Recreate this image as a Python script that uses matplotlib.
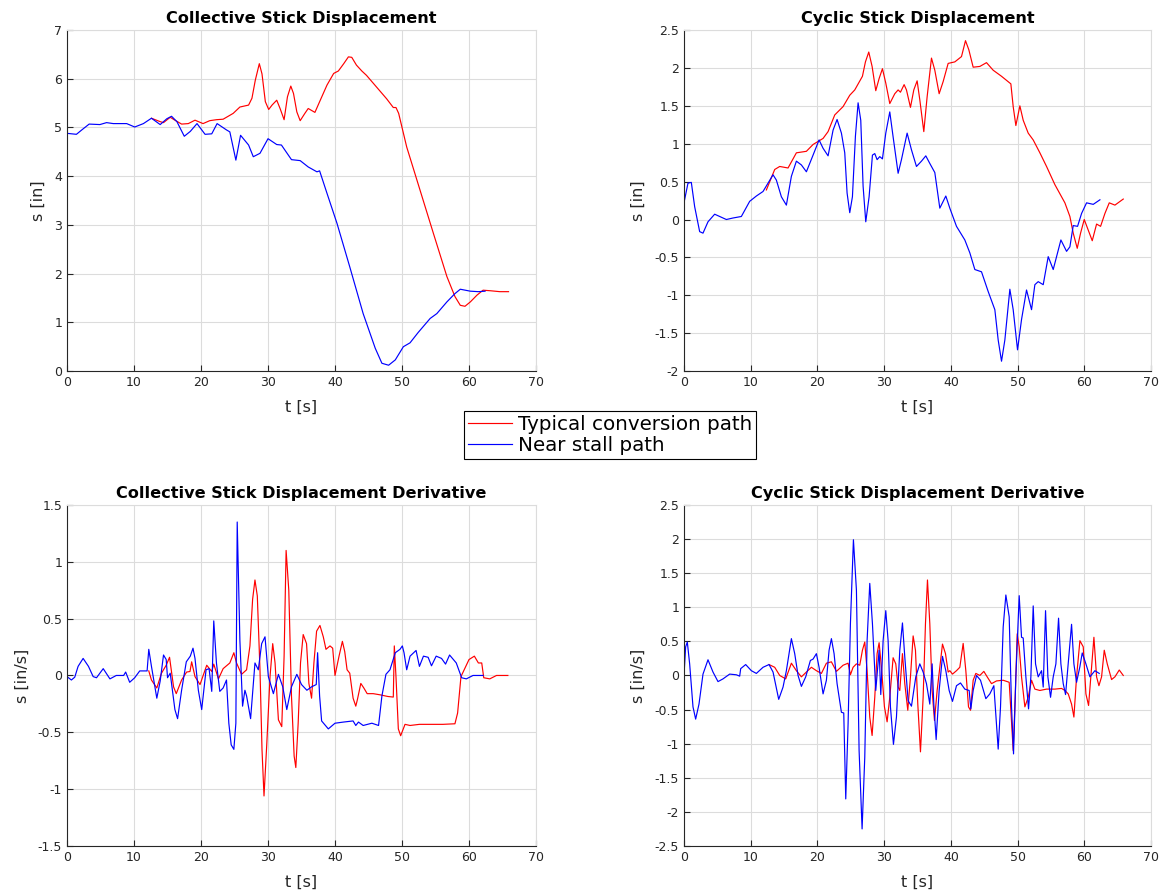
import matplotlib
matplotlib.use("Agg")
import matplotlib.pyplot as plt
from matplotlib.ticker import FuncFormatter

plt.rcParams['font.family'] = ['DejaVu Sans']
plt.rcParams['axes.unicode_minus'] = False

# ---------------- data ----------------
# Collective stick displacement
col_near_t = [0, 1.4, 2.2, 3.3, 4.9, 5.9, 6.9, 8.9, 10.1, 11.4, 12.6, 13.9, 14.9, 15.6, 16.4, 17.5, 18.4, 19.4,
              20.6, 21.6, 22.4, 23.8, 24.3, 25.2, 25.9, 27.1, 27.8, 28.8, 30.0, 31.3, 32.0, 33.5, 34.8, 36.0, 37.3,
              37.7, 38.8, 40.3, 42.2, 44.2, 46.0, 47.0, 48.0, 49.0, 50.2, 51.2, 52.4, 54.2, 55.2, 56.7, 57.9, 58.7,
              60.2, 61.4, 62.4]
col_near_s = [4.88, 4.86, 4.95, 5.07, 5.06, 5.10, 5.08, 5.08, 5.01, 5.08, 5.19, 5.06, 5.18, 5.23, 5.12, 4.82, 4.92,
              5.08, 4.86, 4.87, 5.08, 4.95, 4.91, 4.33, 4.84, 4.64, 4.40, 4.47, 4.77, 4.65, 4.64, 4.34, 4.32, 4.19,
              4.09, 4.11, 3.65, 3.03, 2.14, 1.18, 0.47, 0.16, 0.12, 0.23, 0.50, 0.58, 0.79, 1.08, 1.18, 1.42, 1.59,
              1.68, 1.64, 1.63, 1.64]
col_typ_t = [12.6, 13.9, 14.4, 15.4, 16.1, 17.1, 18.1, 19.1, 20.3, 21.3, 22.3, 23.3, 24.8, 25.8, 27.1, 27.6, 28.1,
             28.7, 29.1, 29.6, 30.1, 30.6, 31.3, 31.8, 32.4, 32.9, 33.4, 33.8, 34.3, 34.8, 35.5, 36.0, 37.0, 37.8,
             38.8, 39.8, 40.5, 41.3, 42.0, 42.5, 43.2, 44.0, 44.7, 46.2, 47.7, 48.7, 49.1, 49.5, 50.7, 52.7, 54.7,
             56.7, 57.9, 58.7, 59.4, 60.2, 61.2, 62.1, 63.1, 64.6, 65.9]
col_typ_s = [5.19, 5.12, 5.10, 5.21, 5.15, 5.07, 5.08, 5.15, 5.08, 5.14, 5.16, 5.17, 5.29, 5.42, 5.46, 5.60, 5.97,
             6.31, 6.10, 5.53, 5.37, 5.46, 5.56, 5.39, 5.16, 5.63, 5.85, 5.70, 5.32, 5.14, 5.29, 5.39, 5.31, 5.56,
             5.87, 6.11, 6.16, 6.31, 6.45, 6.44, 6.28, 6.16, 6.07, 5.83, 5.59, 5.41, 5.41, 5.29, 4.60, 3.71, 2.82,
             1.94, 1.53, 1.35, 1.33, 1.42, 1.56, 1.66, 1.65, 1.63, 1.63]

# Cyclic stick displacement
cyc_near_t = [0, 0.6, 1.1, 1.6, 2.35, 2.85, 3.6, 4.6, 5.35, 6.35, 7.35, 8.6, 9.85, 10.85, 11.85, 12.6, 13.35, 13.85,
              14.6, 15.35, 16.1, 16.85, 17.6, 18.35, 19.35, 20.25, 20.85, 21.6, 22.35, 22.95, 23.6, 24.1, 24.45,
              24.85, 25.25, 25.7, 26.1, 26.5, 26.85, 27.25, 27.75, 28.25, 28.6, 28.95, 29.35, 29.75, 30.25, 30.85,
              31.35, 32.1, 32.6, 33.45, 34.1, 34.85, 35.6, 36.25, 36.85, 37.6, 38.35, 39.25, 39.85, 40.85, 42.1,
              42.85, 43.6, 44.6, 45.6, 46.6, 47.1, 47.6, 48.1, 48.85, 49.35, 50.0, 50.6, 51.35, 52.1, 52.6, 53.1,
              53.85, 54.6, 55.35, 56.5, 57.35, 57.85, 58.35, 59.0, 59.6, 60.35, 61.35, 62.35]
cyc_near_s = [0.22, 0.48, 0.49, 0.17, -0.16, -0.18, -0.03, 0.07, 0.04, 0.0, 0.02, 0.04, 0.24, 0.31, 0.37, 0.48, 0.59,
              0.52, 0.30, 0.19, 0.57, 0.77, 0.72, 0.63, 0.85, 1.05, 0.94, 0.84, 1.18, 1.32, 1.14, 0.88, 0.35, 0.09,
              0.30, 1.10, 1.54, 1.31, 0.44, -0.03, 0.30, 0.85, 0.87, 0.79, 0.83, 0.80, 1.14, 1.42, 1.09, 0.61, 0.79,
              1.14, 0.92, 0.70, 0.77, 0.84, 0.74, 0.62, 0.15, 0.31, 0.15, -0.09, -0.27, -0.44, -0.66, -0.69, -0.95,
              -1.19, -1.59, -1.87, -1.59, -0.92, -1.19, -1.72, -1.32, -0.93, -1.19, -0.86, -0.82, -0.86, -0.49,
              -0.66, -0.27, -0.42, -0.36, -0.08, -0.09, 0.08, 0.22, 0.20, 0.26]
cyc_typ_t = [12.35, 13.6, 14.35, 15.6, 16.85, 18.35, 19.35, 20.85, 21.6, 22.6, 23.85, 24.85, 25.6, 26.75, 27.2, 27.7,
             28.2, 28.75, 29.25, 29.75, 30.25, 30.85, 31.6, 32.1, 32.45, 33.0, 33.35, 33.95, 34.45, 34.95, 35.35,
             35.95, 36.45, 37.1, 37.6, 38.25, 38.85, 39.6, 40.6, 41.6, 42.2, 42.7, 43.35, 44.35, 45.35, 46.35, 47.6,
             49.0, 49.35, 49.75, 50.35, 50.85, 51.6, 52.35, 53.35, 54.35, 55.6, 57.1, 57.85, 58.35, 58.95, 59.45,
             60.0, 60.6, 61.2, 61.85, 62.45, 63.1, 63.75, 64.6, 65.85]
cyc_typ_s = [0.39, 0.66, 0.70, 0.68, 0.88, 0.90, 0.99, 1.07, 1.16, 1.38, 1.49, 1.64, 1.71, 1.89, 2.08, 2.21, 2.02,
             1.70, 1.86, 1.99, 1.80, 1.53, 1.66, 1.71, 1.68, 1.78, 1.71, 1.48, 1.71, 1.83, 1.58, 1.16, 1.62, 2.13,
             1.97, 1.66, 1.82, 2.06, 2.08, 2.15, 2.36, 2.24, 2.01, 2.02, 2.07, 1.97, 1.89, 1.79, 1.49, 1.24, 1.50,
             1.31, 1.14, 1.05, 0.88, 0.70, 0.46, 0.22, 0.04, -0.18, -0.38, -0.18, 0.0, -0.14, -0.28, -0.06, -0.09,
             0.08, 0.22, 0.19, 0.27]

# Collective stick displacement derivative
dcol_near_t = [0, 0.65, 1.15, 1.65, 2.4, 3.2, 3.9, 4.4, 5.4, 6.4, 7.35, 8.45, 8.75, 9.35, 10.1, 10.85, 11.95, 12.2,
               12.6, 13.4, 13.9, 14.4, 14.8, 15.0, 15.4, 16.1, 16.5, 17.1, 17.8, 18.4, 18.8, 19.1, 19.6, 20.1, 20.75,
               21.2, 21.6, 21.9, 22.3, 22.8, 23.3, 23.8, 24.15, 24.5, 24.9, 25.2, 25.4, 25.8, 26.2, 26.55, 26.8,
               27.4, 28.05, 28.55, 29.05, 29.55, 30.05, 30.8, 31.55, 32.2, 32.8, 33.5, 34.3, 35.0, 35.8, 36.5, 37.2,
               37.4, 37.7, 38.0, 39.0, 40.0, 41.25, 42.7, 43.1, 43.5, 44.2, 45.5, 46.5, 47.0, 47.6, 48.2, 49.0,
               49.7, 50.05, 50.3, 50.7, 51.2, 52.1, 52.6, 53.2, 53.9, 54.4, 55.1, 55.9, 56.5, 57.1, 58.1, 58.9,
               59.6, 60.6, 62.1]
dcol_near_s = [-0.01, -0.04, -0.015, 0.08, 0.15, 0.08, -0.01, -0.02, 0.06, -0.03, 0.0, 0.0, 0.03, -0.06, -0.02,
               0.04, 0.04, 0.23, 0.08, -0.20, -0.05, 0.18, 0.14, -0.02, 0.02, -0.30, -0.38, -0.13, 0.12, 0.17, 0.24,
               0.15, -0.13, -0.30, 0.05, 0.06, -0.14, 0.48, 0.11, -0.14, -0.11, -0.04, -0.42, -0.61, -0.65, -0.42,
               1.35, 0.31, -0.27, -0.13, -0.18, -0.38, 0.11, 0.05, 0.28, 0.34, -0.01, -0.16, 0.01, -0.10, -0.30,
               -0.10, 0.01, -0.08, -0.13, -0.10, -0.08, 0.20, -0.18, -0.40, -0.47, -0.42, -0.41, -0.40, -0.44,
               -0.41, -0.44, -0.42, -0.44, -0.18, 0.01, 0.05, 0.20, 0.23, 0.26, 0.20, 0.05, 0.17, 0.22, 0.08, 0.17,
               0.16, 0.085, 0.17, 0.15, 0.10, 0.18, 0.11, -0.02, -0.03, 0.0, 0.0]
dcol_typ_t = [12.2, 12.6, 13.4, 14.1, 14.8, 15.3, 15.9, 16.3, 17.1, 17.85, 18.35, 18.6, 19.1, 19.85, 20.85, 21.6,
              21.9, 22.6, 23.3, 24.3, 24.9, 25.3, 26.05, 26.8, 27.3, 27.7, 28.05, 28.4, 28.8, 29.1, 29.4, 29.8,
              30.3, 30.7, 31.05, 31.55, 32.05, 32.4, 32.7, 33.1, 33.5, 33.9, 34.15, 34.5, 34.85, 35.25, 35.75,
              36.1, 36.5, 36.85, 37.25, 37.75, 38.25, 38.65, 39.25, 39.65, 40.0, 40.6, 41.1, 41.45, 41.8, 42.2,
              42.7, 43.1, 43.35, 43.85, 44.3, 44.8, 45.7, 46.7, 47.9, 48.7, 48.85, 49.1, 49.45, 49.8, 50.45, 51.2,
              52.6, 54.6, 56.1, 57.9, 58.3, 58.8, 59.4, 60.0, 60.8, 61.4, 61.9, 62.2, 63.1, 64.1, 65.8]
dcol_typ_s = [0.04, -0.04, -0.11, 0.02, 0.09, 0.16, -0.10, -0.16, -0.04, 0.03, 0.035, 0.12, -0.01, -0.08, 0.09,
              0.035, 0.10, -0.03, 0.06, 0.11, 0.20, 0.11, 0.01, 0.05, 0.26, 0.67, 0.84, 0.70, 0.05, -0.65, -1.06,
              -0.62, -0.01, 0.28, 0.11, -0.39, -0.45, 0.17, 1.10, 0.75, -0.18, -0.71, -0.81, -0.42, 0.11, 0.36,
              0.28, -0.07, -0.20, 0.11, 0.39, 0.44, 0.34, 0.23, 0.26, 0.24, 0.0, 0.17, 0.30, 0.21, 0.05, 0.02,
              -0.20, -0.27, -0.21, -0.07, -0.11, -0.16, -0.16, -0.17, -0.185, -0.19, 0.26, -0.01, -0.47, -0.53,
              -0.43, -0.44, -0.43, -0.43, -0.43, -0.425, -0.33, -0.01, 0.065, 0.14, 0.17, 0.11, 0.11, -0.02,
              -0.03, 0.0, 0.0]

# Cyclic stick displacement derivative
dcyc_near_t = [0, 0.25, 0.5, 0.85, 1.35, 1.75, 2.25, 2.85, 3.6, 4.35, 5.1, 5.85, 6.85, 7.85, 8.35, 8.5, 9.25, 10.1,
               10.85, 11.85, 12.75, 13.35, 14.2, 14.85, 15.35, 16.1, 16.6, 17.1, 17.6, 18.25, 18.95, 19.35, 19.85,
               20.25, 20.85, 21.35, 21.75, 22.1, 22.5, 22.95, 23.6, 23.95, 24.25, 24.6, 24.95, 25.4, 25.85, 26.25,
               26.7, 27.1, 27.45, 27.85, 28.25, 28.75, 29.25, 29.5, 29.85, 30.25, 30.6, 30.95, 31.4, 31.85, 32.35,
               32.75, 33.1, 33.6, 34.1, 34.75, 35.35, 35.85, 36.35, 36.85, 37.2, 37.45, 37.8, 38.25, 38.75, 39.25,
               39.75, 40.25, 40.85, 41.45, 42.1, 42.75, 43.0, 43.35, 43.85, 44.45, 45.25, 45.85, 46.45, 47.1, 47.45,
               47.85, 48.25, 48.75, 49.1, 49.4, 49.75, 50.25, 50.6, 50.85, 51.25, 51.65, 52.0, 52.35, 52.7, 53.1,
               53.6, 53.85, 54.2, 54.55, 54.95, 55.35, 55.75, 56.15, 56.5, 56.85, 57.2, 57.6, 58.1, 58.45, 58.85,
               59.35, 59.7, 60.25, 60.85, 61.6, 62.25]
dcyc_near_s = [0.0, 0.42, 0.49, 0.17, -0.46, -0.64, -0.42, 0.02, 0.23, 0.05, -0.09, -0.05, 0.02, 0.01, -0.01, 0.10,
               0.16, 0.07, 0.03, 0.12, 0.16, 0.05, -0.35, -0.17, 0.07, 0.54, 0.32, 0.0, -0.16, -0.02, 0.22, 0.24,
               0.32, 0.12, -0.27, -0.07, 0.37, 0.54, 0.32, -0.12, -0.54, -0.55, -1.81, -0.71, 0.76, 1.99, 1.25,
               -1.10, -2.25, -1.20, 0.51, 1.35, 0.76, -0.22, 0.37, -0.28, 0.51, 0.95, 0.51, -0.46, -1.01, -0.61,
               0.37, 0.77, 0.27, -0.37, -0.45, -0.02, 0.17, 0.05, -0.12, -0.42, 0.17, -0.42, -0.94, -0.22, 0.28,
               0.07, -0.22, -0.38, -0.15, -0.11, -0.20, -0.22, -0.49, -0.22, 0.0, -0.07, -0.34, -0.27, -0.15, -1.08,
               -0.46, 0.71, 1.18, 0.86, -0.46, -1.15, -0.02, 1.17, 0.56, 0.55, -0.02, -0.49, -0.02, 1.02, 0.17,
               -0.02, 0.07, -0.17, 0.95, -0.02, -0.32, -0.02, 0.17, 0.84, 0.17, -0.12, -0.28, 0.17, 0.75, 0.17,
               -0.10, 0.13, 0.33, 0.17, -0.02, 0.07, 0.03]
dcyc_typ_t = [12.75, 13.6, 14.35, 15.25, 16.1, 16.85, 17.6, 18.35, 19.1, 19.85, 20.6, 21.35, 22.1, 22.85, 23.85,
              24.6, 24.95, 25.35, 25.85, 26.35, 26.75, 27.1, 27.45, 27.85, 28.2, 28.6, 28.95, 29.25, 29.6, 30.05,
              30.45, 30.85, 31.35, 31.75, 32.1, 32.35, 32.75, 33.1, 33.55, 33.95, 34.35, 34.7, 35.05, 35.45, 35.85,
              36.2, 36.5, 36.85, 37.2, 37.55, 37.95, 38.35, 38.75, 39.2, 39.6, 39.85, 40.25, 40.85, 41.35, 41.85,
              42.25, 42.65, 42.95, 43.35, 43.75, 44.35, 44.95, 45.45, 46.1, 46.85, 47.85, 48.75, 49.0, 49.35, 49.65,
              49.95, 50.25, 50.6, 51.1, 51.6, 52.1, 52.6, 53.35, 54.35, 55.6, 56.6, 57.1, 57.6, 58.1, 58.45, 58.85,
              59.35, 59.85, 60.25, 60.65, 61.1, 61.45, 61.85, 62.2, 62.6, 63.0, 63.45, 64.1, 64.6, 65.25, 65.85]
dcyc_typ_s = [0.16, 0.12, 0.0, -0.05, 0.18, 0.07, -0.02, 0.05, 0.12, 0.07, 0.03, 0.18, 0.20, 0.06, 0.15, 0.18,
              0.01, 0.12, 0.17, 0.15, 0.37, 0.49, 0.07, -0.61, -0.88, -0.32, 0.32, 0.48, 0.12, -0.46, -0.68, -0.32,
              0.26, 0.17, -0.17, -0.22, 0.32, -0.12, -0.51, -0.02, 0.58, 0.37, -0.42, -1.12, -0.32, 0.76, 1.40,
              0.76, -0.22, -0.66, -0.22, 0.12, 0.46, 0.32, 0.05, 0.07, 0.02, 0.07, 0.12, 0.47, 0.07, -0.46, -0.51,
              -0.07, 0.03, 0.0, 0.06, -0.02, -0.12, -0.08, -0.07, -0.10, -0.51, -1.10, -0.32, 0.61, 0.42, -0.02,
              -0.46, -0.32, -0.07, -0.20, -0.22, -0.20, -0.20, -0.19, -0.22, -0.27, -0.42, -0.61, -0.02, 0.51,
              0.42, -0.27, -0.44, 0.12, 0.56, -0.02, -0.15, -0.02, 0.37, 0.17, -0.06, -0.02, 0.08, 0.0]

titles = ["Collective Stick Displacement", "Cyclic Stick Displacement",
          "Collective Stick Displacement Derivative", "Cyclic Stick Displacement Derivative"]
ylabels = ["s [in]", "s [in]", "s [in/s]", "s [in/s]"]
xlabel = "t [s]"
legend_labels = ["Typical conversion path", "Near stall path"]

# ---------------- plotting ----------------
fig = plt.figure(figsize=(11.68, 8.92), dpi=100)
positions = [
    [0.0574, 0.584, 0.4015, 0.3823],
    [0.5856, 0.584, 0.3998, 0.3823],
    [0.0574, 0.0516, 0.4015, 0.3823],
    [0.5856, 0.0516, 0.3998, 0.3823],
]
series = [
    (col_typ_t, col_typ_s, col_near_t, col_near_s, (0, 7), 1),
    (cyc_typ_t, cyc_typ_s, cyc_near_t, cyc_near_s, (-2, 2.5), 0.5),
    (dcol_typ_t, dcol_typ_s, dcol_near_t, dcol_near_s, (-1.5, 1.5), 0.5),
    (dcyc_typ_t, dcyc_typ_s, dcyc_near_t, dcyc_near_s, (-2.5, 2.5), 0.5),
]
fmt = FuncFormatter(lambda v, p: "%g" % round(v, 6))
handles = None
for i, (pos, (rt, rs, bt, bs, yl, ystep)) in enumerate(zip(positions, series)):
    ax = fig.add_axes(pos)
    h1, = ax.plot(rt, rs, color="#ff0000", lw=0.85, label=legend_labels[0])
    h2, = ax.plot(bt, bs, color="#0000ff", lw=0.85, label=legend_labels[1])
    handles = [h1, h2]
    ax.set_xlim(0, 70)
    ax.set_ylim(*yl)
    ax.set_xticks(range(0, 71, 10))
    n = int(round((yl[1] - yl[0]) / ystep))
    ax.set_yticks([yl[0] + k * ystep for k in range(n + 1)])
    ax.xaxis.set_major_formatter(fmt)
    ax.yaxis.set_major_formatter(fmt)
    ax.grid(True, color="#dcdcdc", lw=0.8)
    ax.set_axisbelow(True)
    ax.tick_params(direction="in", length=4, labelsize=9, colors="#262626",
                   top=False, right=False)
    for s in ["left", "bottom"]:
        ax.spines[s].set_color("#262626")
        ax.spines[s].set_linewidth(0.8)
    for s in ["top", "right"]:
        ax.spines[s].set_color("#dcdcdc")
        ax.spines[s].set_linewidth(0.8)
    ax.set_title(titles[i], fontsize=11.6, fontweight="bold", pad=5)
    ax.set_xlabel(xlabel, fontsize=11.5, color="#262626", labelpad=8)
    ax.set_ylabel(ylabels[i], fontsize=11.5, color="#262626", labelpad=6)

leg = fig.legend(handles, legend_labels, loc="center", bbox_to_anchor=(0.5223, 0.5123),
                 fontsize=14.3, frameon=True, fancybox=False, framealpha=1,
                 edgecolor="black", handlelength=2.2, borderpad=0.2, labelspacing=0.1,
                 handletextpad=0.3, borderaxespad=0)
leg.get_frame().set_linewidth(0.8)

fig.savefig("out.png", dpi=100)
